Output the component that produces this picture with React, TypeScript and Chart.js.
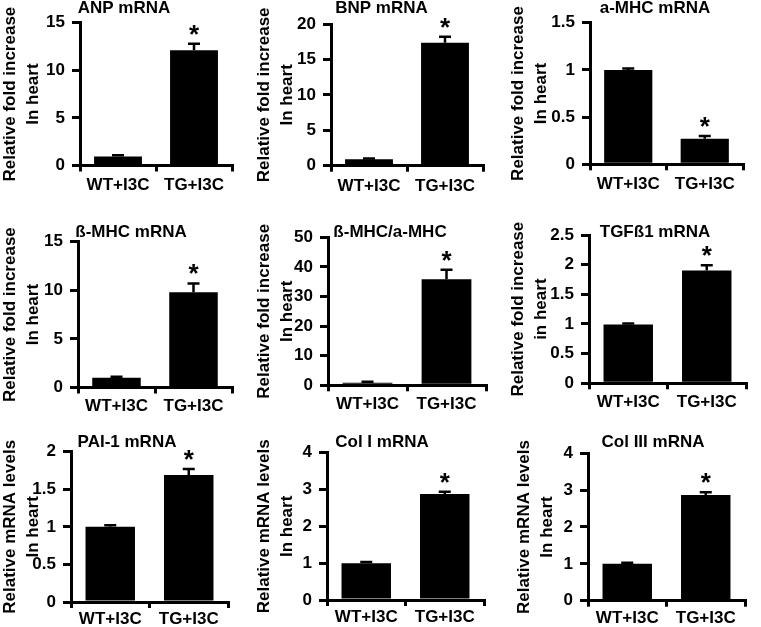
import React, { useEffect, useRef } from "react";
import { Chart, registerables } from "chart.js";
Chart.register(...registerables);

const FONT = "'Liberation Sans', Arial, Helvetica, sans-serif";

// ---------- data ----------
const categories = ["WT+I3C", "TG+I3C"];

const panelTitles = [
  "ANP mRNA",
  "BNP mRNA",
  "a-MHC mRNA",
  "ß-MHC mRNA",
  "ß-MHC/a-MHC",
  "TGFß1 mRNA",
  "PAI-1 mRNA",
  "Col I mRNA",
  "Col III mRNA",
];

const yTitleFold = ["Relative fold increase", "In heart"];
const yTitleFoldLower = ["Relative fold increase", "in heart"];
const yTitleLevels = ["Relative mRNA levels", "In heart"];

const anpMean = [0.95, 12.1];
const anpErr = [0.13, 0.7];
const bnpMean = [0.9, 17.35];
const bnpErr = [0.13, 0.85];
const aMhcMean = [1.0, 0.27];
const aMhcErr = [0.015, 0.03];
const bMhcMean = [1.0, 9.8];
const bMhcErr = [0.1, 0.9];
const ratioMean = [0.9, 35.8];
const ratioErr = [0.3, 3.2];
const tgfMean = [0.99, 1.9];
const tgfErr = [0.02, 0.09];
const paiMean = [1.0, 1.69];
const paiErr = [0.02, 0.08];
const col1Mean = [1.0, 2.88];
const col1Err = [0.03, 0.06];
const col3Mean = [1.0, 2.87];
const col3Err = [0.03, 0.07];

const yMaxes = [15, 20, 1.5, 15, 50, 2.5, 2, 4, 4];
const ySteps = [5, 5, 0.5, 5, 10, 0.5, 0.5, 1, 1];
const starFlags = [false, true];

const means = [anpMean, bnpMean, aMhcMean, bMhcMean, ratioMean, tgfMean, paiMean, col1Mean, col3Mean];
const errs = [anpErr, bnpErr, aMhcErr, bMhcErr, ratioErr, tgfErr, paiErr, col1Err, col3Err];
const yTitles = [
  yTitleFold, yTitleFold, yTitleFold,
  yTitleFold, yTitleFold, yTitleFoldLower,
  yTitleLevels, yTitleLevels, yTitleLevels,
];

// ---------- layout (page geometry, not data) ----------
type Lay = { x: number; y: number; w: number; h: number; axis: number; top: number; right: number; xh: number; tx: number; ty: number; ytc: number; gap: number };
const layouts: Lay[] = [
  { x: 0, y: 0, w: 254, h: 200, axis: 80, top: 22.7, right: 22, xh: 34.5, tx: 124, ty: 8, ytc: 10, gap: 10 },
  { x: 254, y: 0, w: 254, h: 200, axis: 77, top: 24, right: 25, xh: 34.3, tx: 127.5, ty: 8, ytc: 10, gap: 10 },
  { x: 508, y: 0, w: 253, h: 200, axis: 82, top: 22.7, right: 18, xh: 35.7, tx: 147, ty: 8, ytc: 10, gap: 10 },
  { x: 0, y: 200, w: 254, h: 216, axis: 78, top: 41.7, right: 22, xh: 28.5, tx: 131, ty: 32, ytc: 10, gap: 9 },
  { x: 254, y: 200, w: 254, h: 216, axis: 74, top: 37.3, right: 22, xh: 30.7, tx: 136, ty: 32, ytc: 10, gap: 9 },
  { x: 508, y: 200, w: 253, h: 216, axis: 81, top: 35, right: 15, xh: 32.7, tx: 147, ty: 32, ytc: 10, gap: 9 },
  { x: 0, y: 416, w: 254, h: 211, axis: 71, top: 35.7, right: 26, xh: 25, tx: 127, ty: 26, ytc: 10, gap: 7 },
  { x: 254, y: 416, w: 254, h: 211, axis: 73, top: 36.7, right: 24, xh: 27, tx: 128, ty: 26, ytc: 10, gap: 7 },
  { x: 508, y: 416, w: 253, h: 211, axis: 80, top: 37.3, right: 16, xh: 26.3, tx: 145, ty: 26, ytc: 16, gap: 7 },
];

const LINE_H = 23;

function Panel({ idx }: { idx: number }) {
  const ref = useRef<HTMLCanvasElement>(null);
  const L = layouts[idx];
  useEffect(() => {
    const mean = means[idx];
    const err = errs[idx];
    const errPlugin = {
      id: "errbars" + idx,
      afterDatasetsDraw(chart: any) {
        const ctx = chart.ctx;
        const ys = chart.scales.y;
        const meta = chart.getDatasetMeta(0);
        ctx.save();
        ctx.strokeStyle = "#000";
        ctx.fillStyle = "#000";
        ctx.lineWidth = 2.5;
        meta.data.forEach((bar: any, i: number) => {
          const x = bar.x;
          const yBar = ys.getPixelForValue(mean[i]);
          const yTop = ys.getPixelForValue(mean[i] + err[i]);
          ctx.beginPath();
          ctx.moveTo(x, yBar);
          ctx.lineTo(x, yTop);
          ctx.moveTo(x - 6, yTop);
          ctx.lineTo(x + 6, yTop);
          ctx.stroke();
          if (starFlags[i]) {
            ctx.font = `bold 26px ${FONT}`;
            ctx.textAlign = "center";
            ctx.textBaseline = "alphabetic";
            ctx.fillText("*", x, yTop - 1);
          }
        });
        ctx.restore();
      },
    };
    const titlePlugin = {
      id: "ptitle" + idx,
      afterDraw(chart: any) {
        const ctx = chart.ctx;
        ctx.save();
        ctx.fillStyle = "#000";
        ctx.font = `bold 17px ${FONT}`;
        ctx.textAlign = "center";
        ctx.textBaseline = "middle";
        ctx.fillText(panelTitles[idx], L.tx, L.ty);
        ctx.restore();
      },
    };
    const tickFont = { family: FONT, size: 17, weight: "bold" as const };
    const chart = new Chart(ref.current as HTMLCanvasElement, {
      type: "bar",
      data: {
        labels: categories,
        datasets: [
          {
            data: mean,
            backgroundColor: "#000",
            borderWidth: 0,
            barPercentage: 0.63,
            categoryPercentage: 1,
          },
        ],
      },
      options: {
        animation: false,
        responsive: false,
        maintainAspectRatio: false,
        devicePixelRatio: 1,
        layout: { padding: { top: L.top, right: L.right, left: 0, bottom: 0 } },
        plugins: {
          legend: { display: false },
          tooltip: { enabled: false },
          title: { display: false },
        },
        scales: {
          x: {
            grid: { offset: true, drawOnChartArea: false, drawTicks: true, tickLength: 6, color: "#000", lineWidth: 3 },
            border: { display: true, color: "#000", width: 3 },
            ticks: { color: "#000", font: tickFont, padding: L.gap - 6, maxRotation: 0, autoSkip: false },
            afterFit: (s: any) => {
              s.height = L.xh;
            },
          },
          y: {
            min: 0,
            max: yMaxes[idx],
            ticks: {
              stepSize: ySteps[idx],
              color: "#000",
              font: tickFont,
              padding: 7,
              callback: (v: any) => String(v),
            },
            grid: { drawOnChartArea: false, drawTicks: true, tickLength: 8, color: "#000", lineWidth: 3 },
            border: { display: true, color: "#000", width: 3 },
            title: {
              display: true,
              text: yTitles[idx],
              color: "#000",
              font: { family: FONT, size: 17, weight: "bold", lineHeight: LINE_H / 17 },
              padding: { top: L.ytc - LINE_H / 2, bottom: 0 },
            },
            afterFit: (s: any) => {
              s.width = L.axis;
            },
          },
        },
      } as any,
      plugins: [errPlugin, titlePlugin],
    });
    return () => chart.destroy();
  }, [idx]);
  return (
    <canvas
      ref={ref}
      width={L.w}
      height={L.h}
      style={{ position: "absolute", left: L.x, top: L.y, width: L.w, height: L.h }}
    />
  );
}

export default function App() {
  return (
    <div style={{ position: "absolute", left: 0, top: 0, width: 761, height: 627, background: "#fff", overflow: "hidden" }}>
      {layouts.map((_, i) => (
        <Panel key={i} idx={i} />
      ))}
    </div>
  );
}
